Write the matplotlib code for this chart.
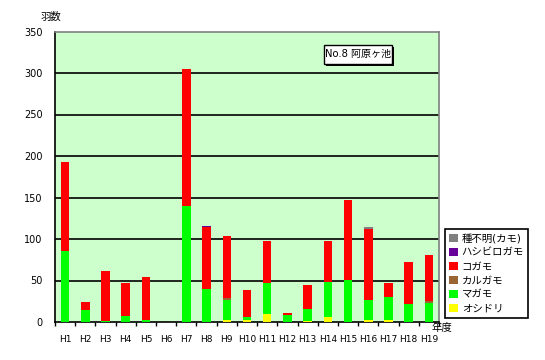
import matplotlib
matplotlib.use("Agg")
import matplotlib.pyplot as plt
from matplotlib.patches import Rectangle
import numpy as np

plt.rcParams['font.family'] = ['DejaVu Sans', 'Noto Sans CJK JP']

years = ["H1", "H2", "H3", "H4", "H5", "H6", "H7", "H8", "H9", "H10",
         "H11", "H12", "H13", "H14", "H15", "H16", "H17", "H18", "H19"]
oshidori = [0, 0, 0, 0, 0, 0, 0, 0, 2, 2, 10, 0, 1, 6, 0, 3, 2, 0, 0]
magamo = [86, 15, 1, 7, 2, 0, 140, 40, 24, 4, 37, 8, 15, 42, 51, 24, 28, 22, 23]
karugamo = [0, 0, 0, 0, 0, 0, 0, 0, 3, 0, 0, 0, 0, 0, 0, 0, 0, 0, 2]
kogamo = [107, 9, 61, 40, 52, 0, 165, 75, 75, 33, 50, 3, 29, 49, 96, 85, 17, 50, 56]
hashibiro = [0, 0, 0, 0, 0, 0, 0, 1, 0, 0, 0, 0, 0, 0, 0, 0, 0, 0, 0]
fumei = [0, 0, 0, 0, 0, 0, 0, 0, 0, 0, 1, 0, 0, 0, 0, 3, 0, 0, 0]

series = [
    ("オシドリ", oshidori, "#FFFF00"),
    ("マガモ", magamo, "#00FF00"),
    ("カルガモ", karugamo, "#996633"),
    ("コガモ", kogamo, "#FF0000"),
    ("ハシビロガモ", hashibiro, "#660099"),
    ("種不明(カモ)", fumei, "#808080"),
]

W, H = 545, 360
fig = plt.figure(figsize=(W / 100, H / 100), dpi=100)
ax = fig.add_axes([55 / W, 1 - 322 / H, (439 - 55) / W, (322 - 31.5) / H])
ax.set_facecolor("#CCFFCC")

x = np.arange(len(years))
bottom = np.zeros(len(years))
handles = []
for name, vals, col in series:
    v = np.array(vals, dtype=float)
    b = ax.bar(x, v, width=0.42, bottom=bottom, color=col, label=name, zorder=3)
    handles.append(b)
    bottom += v

ax.set_xlim(-0.5, len(years) - 0.5)
ax.set_ylim(0, 350)
ax.set_yticks(np.arange(0, 351, 50))
ax.set_yticklabels([str(v) for v in range(0, 351, 50)], fontsize=7)
ax.tick_params(axis='y', length=0, pad=9)
for yv in range(50, 301, 50):
    ax.axhline(yv, color="black", lw=1.2, zorder=1)

ax.set_xticks(x)
ax.set_xticklabels(years, fontsize=6.5)
ax.set_xticks(np.arange(-0.5, len(years), 1), minor=True)
ax.tick_params(axis='x', which='major', length=0, pad=9)
ax.tick_params(axis='x', which='minor', length=3, width=1, direction='out', color='black')

ax.spines['left'].set_color('black')
ax.spines['bottom'].set_color('black')
ax.spines['top'].set_color('#808080')
ax.spines['right'].set_color('#808080')
for s in ax.spines.values():
    s.set_linewidth(1.2)

leg = ax.legend(handles[::-1], [s[0] for s in series][::-1],
                loc='upper left', bbox_to_anchor=(445 / W, 1 - 229 / H),
                bbox_transform=fig.transFigure, fontsize=7.5, frameon=True,
                fancybox=False, edgecolor='black', framealpha=1,
                handlelength=0.8, handleheight=0.8, handletextpad=0.4,
                labelspacing=0.4, borderpad=0.4, borderaxespad=0)
leg.get_frame().set_linewidth(1.2)

# title box with shadow
def frect(x0, y0, x1, y1, **kw):
    return Rectangle((x0 / W, 1 - y1 / H), (x1 - x0) / W, (y1 - y0) / H,
                     transform=fig.transFigure, **kw)

fig.patches.append(frect(326, 47, 394, 66, facecolor='black', edgecolor='none', zorder=5))
fig.patches.append(frect(324, 45, 392, 64, facecolor='white', edgecolor='black', lw=1, zorder=6))
fig.text(358 / W, 1 - 54.5 / H, "No.8 阿原ヶ池", ha='center', va='center',
         fontsize=7.2, zorder=7)

fig.text(51 / W, 1 - 17 / H, "羽数", ha='center', va='center', fontsize=7.5)
fig.text(442 / W, 1 - 328 / H, "年度", ha='center', va='center', fontsize=7.5)

fig.savefig("out.png", dpi=100)
